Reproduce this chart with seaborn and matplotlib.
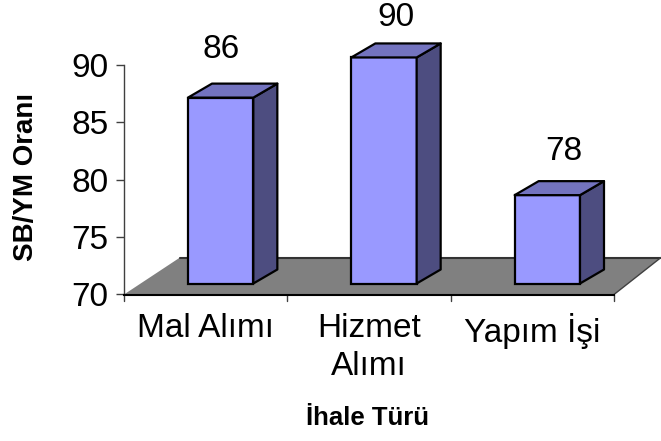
import matplotlib
matplotlib.use("Agg")
import matplotlib.pyplot as plt
import seaborn as sns
import pandas as pd
from matplotlib.patches import Polygon
from matplotlib.transforms import ScaledTranslation, IdentityTransform

categories = ["Mal Alımı", "Hizmet\nAlımı", "Yapım İşi"]
values = [86.2, 89.7, 77.7]
labels = ["86", "90", "78"]
label_pos = [(221, 50), (396, 17), (564, 152)]

sns.set_theme(style="white")
plt.rcParams["font.family"] = ["Liberation Sans", "DejaVu Sans"]

W, H = 661, 441
fig = plt.figure(figsize=(W / 100, H / 100), dpi=100)
ax = fig.add_axes([124 / W, 1 - 294.5 / H, 490 / W, 229.5 / H])
df = pd.DataFrame({"cat": categories, "val": values})
sns.barplot(data=df, x="cat", y="val", ax=ax, color="#9999FF", saturation=1,
            width=0.4, edgecolor="black", linewidth=1.6, zorder=3)
ax.set_ylim(70, 90)
ax.set_xlim(-0.5, 2.5)
ax.set_yticks([70, 75, 80, 85, 90])
ax.set_xticks([0, 1, 2])
ax.set_xticklabels(categories, fontsize=24, linespacing=1.3, color="black")
ax.tick_params(axis="y", labelsize=24, length=6, width=1, left=True, pad=5, color="#404040",
               labelcolor="black")
ax.tick_params(axis="x", length=0, pad=13)
for t in [-0.5, 0.5, 1.5, 2.5]:
    ax.plot([t, t], [0, -0.03], transform=ax.get_xaxis_transform(), color="#404040",
            lw=1, clip_on=False, zorder=2)
ax.spines["top"].set_visible(False)
ax.spines["right"].set_visible(False)
ax.spines["left"].set_color("#404040")
ax.spines["left"].set_linewidth(1)
ax.spines["bottom"].set_color("black")
ax.spines["bottom"].set_linewidth(1.5)
ax.set_xlabel("")
ax.set_ylabel("")
fig.text(26 / W, 1 - 177 / H, "SB/YM Oranı", rotation=90, fontsize=20, fontweight="bold",
         ha="center", va="center", color="black")
fig.text(367 / W, 1 - 418 / H, "İhale Türü", fontsize=18.5, fontweight="bold",
         ha="center", va="center", color="black")


def to_px(x, y):
    return ax.transData.transform((x, y))


DX, DY = 24, 14          # depth of each bar
SX, SY = 15, 11          # shift of the bars' front face from the axes
x0, y0 = ax.transAxes.transform((0, 0))
x1, y1 = ax.transAxes.transform((1, 0))
floor = Polygon([(x0, y0), (x1, y1), (x1 + 47, y1 + 37), (x0 + 56, y0 + 37)],
                closed=True, facecolor="#808080", edgecolor="none",
                transform=IdentityTransform(), zorder=1, clip_on=False)
ax.plot([x0 + 56, x1 + 47], [y0 + 37, y1 + 37], color="#333333", lw=1.5,
        transform=IdentityTransform(), zorder=1.5, clip_on=False)
ax.plot([x1, x1 + 47], [y1, y1 + 37], color="#404040", lw=1,
        transform=IdentityTransform(), zorder=1.5, clip_on=False)

shift = ScaledTranslation(SX / 100, SY / 100, fig.dpi_scale_trans)
for patch, lab, (lx, ly) in zip(list(ax.patches), labels, label_pos):
    top_val = patch.get_y() + patch.get_height()
    patch.set_y(70)
    patch.set_height(top_val - 70)
    xa, ya = to_px(patch.get_x(), 70)
    xb, yb = to_px(patch.get_x() + patch.get_width(), top_val)
    xa, xb, ya, yb = xa + SX, xb + SX, ya + SY, yb + SY
    patch.set_transform(ax.transData + shift)
    patch.set_clip_on(False)
    side = Polygon([(xb, ya), (xb + DX, ya + DY), (xb + DX, yb + DY), (xb, yb)],
                   closed=True, facecolor="#4D4D80", edgecolor="black", lw=1.6,
                   joinstyle="round", transform=IdentityTransform(), zorder=3, clip_on=False)
    top = Polygon([(xa, yb), (xb, yb), (xb + DX, yb + DY), (xa + DX, yb + DY)],
                  closed=True, facecolor="#7373BF", edgecolor="black", lw=1.6,
                  joinstyle="round", transform=IdentityTransform(), zorder=3, clip_on=False)
    ax.add_patch(side)
    ax.add_patch(top)
    fig.text(lx / W, 1 - ly / H, lab, fontsize=24, ha="center", va="center", color="black")
ax.add_patch(floor)

fig.savefig("out.png", dpi=100)
